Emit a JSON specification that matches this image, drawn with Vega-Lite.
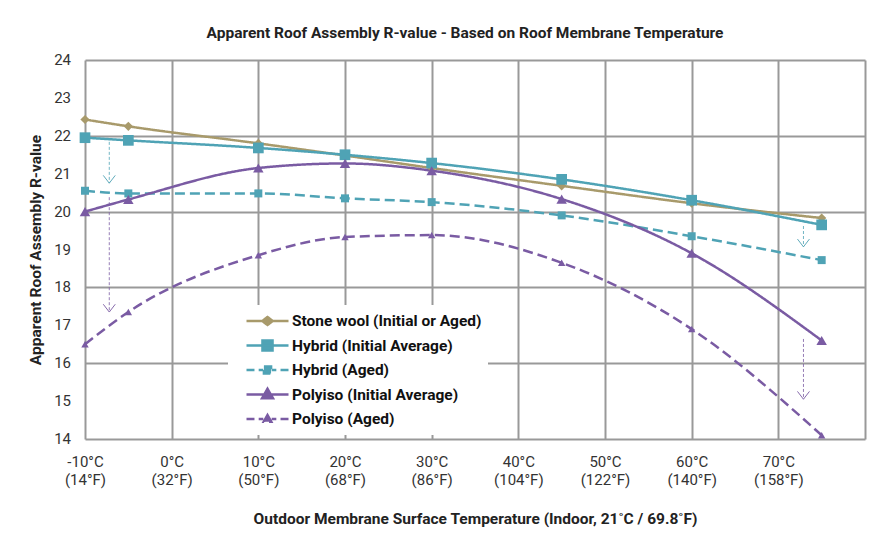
{
  "$schema": "https://vega.github.io/schema/vega-lite/v6.json",
  "width": 780,
  "height": 379,
  "autosize": {"type": "none"},
  "padding": {"left": 85, "top": 60, "right": 15, "bottom": 98},
  "background": "white",
  "title": {"text": "Apparent Roof Assembly R-value - Based on Roof Membrane Temperature", "font": "Roboto", "fontSize": 15.5, "fontWeight": "bold", "color": "#222", "offset": 12, "anchor": "middle", "dx": -10},
  "config": {"view": {"stroke": null}},
  "datasets": {
    "series": [
      {"s": "Stone wool (Initial or Aged)", "t": -10, "r": 22.43},
      {"s": "Stone wool (Initial or Aged)", "t": -5, "r": 22.25},
      {"s": "Stone wool (Initial or Aged)", "t": 10, "r": 21.8},
      {"s": "Stone wool (Initial or Aged)", "t": 20, "r": 21.48},
      {"s": "Stone wool (Initial or Aged)", "t": 30, "r": 21.15},
      {"s": "Stone wool (Initial or Aged)", "t": 45, "r": 20.68},
      {"s": "Stone wool (Initial or Aged)", "t": 60, "r": 20.22},
      {"s": "Stone wool (Initial or Aged)", "t": 75, "r": 19.83},
      {"s": "Hybrid (Initial Average)", "t": -10, "r": 21.95},
      {"s": "Hybrid (Initial Average)", "t": -5, "r": 21.88},
      {"s": "Hybrid (Initial Average)", "t": 10, "r": 21.68},
      {"s": "Hybrid (Initial Average)", "t": 20, "r": 21.5},
      {"s": "Hybrid (Initial Average)", "t": 30, "r": 21.28},
      {"s": "Hybrid (Initial Average)", "t": 45, "r": 20.85},
      {"s": "Hybrid (Initial Average)", "t": 60, "r": 20.3},
      {"s": "Hybrid (Initial Average)", "t": 75, "r": 19.65},
      {"s": "Hybrid (Aged)", "t": -10, "r": 20.55},
      {"s": "Hybrid (Aged)", "t": -5, "r": 20.48},
      {"s": "Hybrid (Aged)", "t": 10, "r": 20.48},
      {"s": "Hybrid (Aged)", "t": 20, "r": 20.35},
      {"s": "Hybrid (Aged)", "t": 30, "r": 20.25},
      {"s": "Hybrid (Aged)", "t": 45, "r": 19.9},
      {"s": "Hybrid (Aged)", "t": 60, "r": 19.35},
      {"s": "Hybrid (Aged)", "t": 75, "r": 18.72},
      {"s": "Polyiso (Initial Average)", "t": -10, "r": 20.0},
      {"s": "Polyiso (Initial Average)", "t": -5, "r": 20.32},
      {"s": "Polyiso (Initial Average)", "t": 10, "r": 21.15},
      {"s": "Polyiso (Initial Average)", "t": 20, "r": 21.27},
      {"s": "Polyiso (Initial Average)", "t": 30, "r": 21.08},
      {"s": "Polyiso (Initial Average)", "t": 45, "r": 20.33},
      {"s": "Polyiso (Initial Average)", "t": 60, "r": 18.9},
      {"s": "Polyiso (Initial Average)", "t": 75, "r": 16.6},
      {"s": "Polyiso (Aged)", "t": -10, "r": 16.5},
      {"s": "Polyiso (Aged)", "t": -5, "r": 17.35},
      {"s": "Polyiso (Aged)", "t": 10, "r": 18.85},
      {"s": "Polyiso (Aged)", "t": 20, "r": 19.33},
      {"s": "Polyiso (Aged)", "t": 30, "r": 19.38},
      {"s": "Polyiso (Aged)", "t": 45, "r": 18.65},
      {"s": "Polyiso (Aged)", "t": 60, "r": 16.9},
      {"s": "Polyiso (Aged)", "t": 75, "r": 14.1}
    ],
    "arrows": [
      {"s": "Hybrid (Aged)", "t": -7.2, "r": 21.84, "r2": 20.75},
      {"s": "Polyiso (Aged)", "t": -7.2, "r": 20.38, "r2": 17.35},
      {"s": "Hybrid (Aged)", "t": 72.9, "r": 19.62, "r2": 19.07},
      {"s": "Polyiso (Aged)", "t": 72.9, "r": 16.64, "r2": 15.05}
    ],
    "yticks": [
      {"v": 14}, {"v": 15}, {"v": 16}, {"v": 17}, {"v": 18}, {"v": 19},
      {"v": 20}, {"v": 21}, {"v": 22}, {"v": 23}, {"v": 24}
    ]
  },
  "layer": [
    {
      "data": {"name": "series"},
      "mark": {"type": "line", "interpolate": "monotone", "strokeWidth": 2.5},
      "encoding": {
        "x": {
          "field": "t", "type": "quantitative",
          "scale": {"domain": [-10, 80], "nice": false, "zero": false},
          "axis": {
            "values": [-10, 0, 10, 20, 30, 40, 50, 60, 70, 80],
            "title": "Outdoor Membrane Surface Temperature (Indoor, 21˚C / 69.8˚F)",
            "labelExpr": "datum.value >= 80 ? '' : [datum.value + '°C', '(' + (datum.value * 9 / 5 + 32) + '°F)']",
            "labelFont": "Roboto", "labelFontSize": 15, "labelColor": "#333", "labelLineHeight": 18,
            "labelPadding": 15, "labelFlush": false, "labelOverlap": false,
            "titleFont": "Roboto", "titleFontSize": 15.5, "titleFontWeight": "bold", "titleColor": "#222", "titlePadding": 24,
            "domain": false, "ticks": false, "gridColor": "#999", "gridWidth": 2
          }
        },
        "y": {
          "field": "r", "type": "quantitative",
          "scale": {"domain": [14, 24], "nice": false, "zero": false},
          "axis": {
            "values": [14, 15, 16, 17, 18, 19, 20, 21, 22, 23, 24],
            "title": "Apparent Roof Assembly R-value",
            "labels": false,
            "titleFont": "Roboto", "titleFontSize": 15.5, "titleFontWeight": "bold", "titleColor": "#222", "titlePadding": 42,
            "domain": false, "ticks": false, "gridColor": "#999", "gridWidth": 2
          }
        },
        "color": {
          "field": "s", "type": "nominal",
          "scale": {
            "domain": ["Stone wool (Initial or Aged)", "Hybrid (Initial Average)", "Hybrid (Aged)", "Polyiso (Initial Average)", "Polyiso (Aged)"],
            "range": ["#A89A6B", "#4FA3B5", "#4FA3B5", "#7A5BA3", "#7A5BA3"]
          },
          "legend": {
            "orient": "none", "legendX": 143, "legendY": 245, "title": null,
            "fillColor": "white", "padding": 6, "symbolOffset": 11,
            "symbolSize": 1764, "clipHeight": 20, "rowPadding": 4.5,
            "labelFont": "Roboto", "labelFontSize": 15.5, "labelFontWeight": "bold", "labelColor": "#111", "labelOffset": 2, "labelLimit": 400,
            "symbolStrokeWidth": 2.5,
            "encode": {
              "symbols": {
                "update": {
                  "shape": {"signal": "datum.value === 'Stone wool (Initial or Aged)' ? 'M-1,0L1,0M-0.25,0L0,-0.19L0.25,0L0,0.19Z' : datum.value === 'Hybrid (Initial Average)' ? 'M-1,0L1,0M-0.24,-0.24L0.24,-0.24L0.24,0.24L-0.24,0.24Z' : datum.value === 'Hybrid (Aged)' ? 'M-1,0L-0.62,0M-0.42,0L-0.2,0M0.2,0L0.42,0M0.62,0L1,0M-0.17,-0.17L0.17,-0.17L0.17,0.17L-0.17,0.17Z' : datum.value === 'Polyiso (Initial Average)' ? 'M-1,0L1,0M0,-0.27L0.26,0.18L-0.26,0.18Z' : 'M-1,0L-0.62,0M-0.42,0L-0.2,0M0.2,0L0.42,0M0.62,0L1,0M0,-0.19L0.18,0.13L-0.18,0.13Z'"},
                  "fill": {"signal": "scale('color', datum.value)"},
                  "stroke": {"signal": "scale('color', datum.value)"},
                  "strokeWidth": {"value": 2.5},
                  "opacity": {"value": 1},
                  "fillOpacity": {"value": 1},
                  "strokeDash": {"value": []}
                }
              }
            }
          }
        },
        "strokeDash": {
          "field": "s", "type": "nominal",
          "scale": {
            "domain": ["Stone wool (Initial or Aged)", "Hybrid (Initial Average)", "Hybrid (Aged)", "Polyiso (Initial Average)", "Polyiso (Aged)"],
            "range": [[1, 0], [1, 0], [10, 5], [1, 0], [10, 5]]
          },
          "legend": null
        }
      }
    },
    {
      "data": {"name": "yticks"},
      "mark": {"type": "text", "align": "right", "baseline": "middle", "dx": -14, "font": "Roboto", "fontSize": 15, "color": "#333", "clip": false},
      "encoding": {
        "x": {"datum": -10, "type": "quantitative"},
        "y": {"field": "v", "type": "quantitative"},
        "text": {"field": "v", "type": "quantitative", "format": "d"}
      }
    },
    {
      "data": {"name": "arrows"},
      "mark": {"type": "rule", "strokeWidth": 1, "strokeDash": [3, 2], "opacity": 0.8},
      "encoding": {
        "x": {"field": "t", "type": "quantitative"},
        "y": {"field": "r", "type": "quantitative"},
        "y2": {"field": "r2"},
        "color": {"field": "s", "type": "nominal"}
      }
    },
    {
      "data": {"name": "arrows"},
      "mark": {"type": "point", "filled": false, "shape": "M-1,-1.3L0,0L1,-1.3", "size": 144, "strokeWidth": 1, "opacity": 0.9},
      "encoding": {
        "x": {"field": "t", "type": "quantitative"},
        "y": {"field": "r2", "type": "quantitative"},
        "color": {"field": "s", "type": "nominal"}
      }
    },
    {
      "data": {"name": "series"},
      "transform": [{"filter": "datum.s === 'Stone wool (Initial or Aged)'"}],
      "mark": {"type": "point", "filled": true, "opacity": 1, "shape": "diamond", "size": 85},
      "encoding": {
        "x": {"field": "t", "type": "quantitative"},
        "y": {"field": "r", "type": "quantitative"},
        "color": {"field": "s", "type": "nominal"}
      }
    },
    {
      "data": {"name": "series"},
      "transform": [{"filter": "datum.s === 'Hybrid (Initial Average)'"}],
      "mark": {"type": "point", "filled": true, "opacity": 1, "shape": "square", "size": 115},
      "encoding": {
        "x": {"field": "t", "type": "quantitative"},
        "y": {"field": "r", "type": "quantitative"},
        "color": {"field": "s", "type": "nominal"}
      }
    },
    {
      "data": {"name": "series"},
      "transform": [{"filter": "datum.s === 'Hybrid (Aged)'"}],
      "mark": {"type": "point", "filled": true, "opacity": 1, "shape": "square", "size": 64},
      "encoding": {
        "x": {"field": "t", "type": "quantitative"},
        "y": {"field": "r", "type": "quantitative"},
        "color": {"field": "s", "type": "nominal"}
      }
    },
    {
      "data": {"name": "series"},
      "transform": [{"filter": "datum.s === 'Polyiso (Initial Average)'"}],
      "mark": {"type": "point", "filled": true, "opacity": 1, "shape": "triangle-up", "size": 110},
      "encoding": {
        "x": {"field": "t", "type": "quantitative"},
        "y": {"field": "r", "type": "quantitative"},
        "color": {"field": "s", "type": "nominal"}
      }
    },
    {
      "data": {"name": "series"},
      "transform": [{"filter": "datum.s === 'Polyiso (Aged)'"}],
      "mark": {"type": "point", "filled": true, "opacity": 1, "shape": "triangle-up", "size": 55},
      "encoding": {
        "x": {"field": "t", "type": "quantitative"},
        "y": {"field": "r", "type": "quantitative"},
        "color": {"field": "s", "type": "nominal"}
      }
    }
  ]
}
